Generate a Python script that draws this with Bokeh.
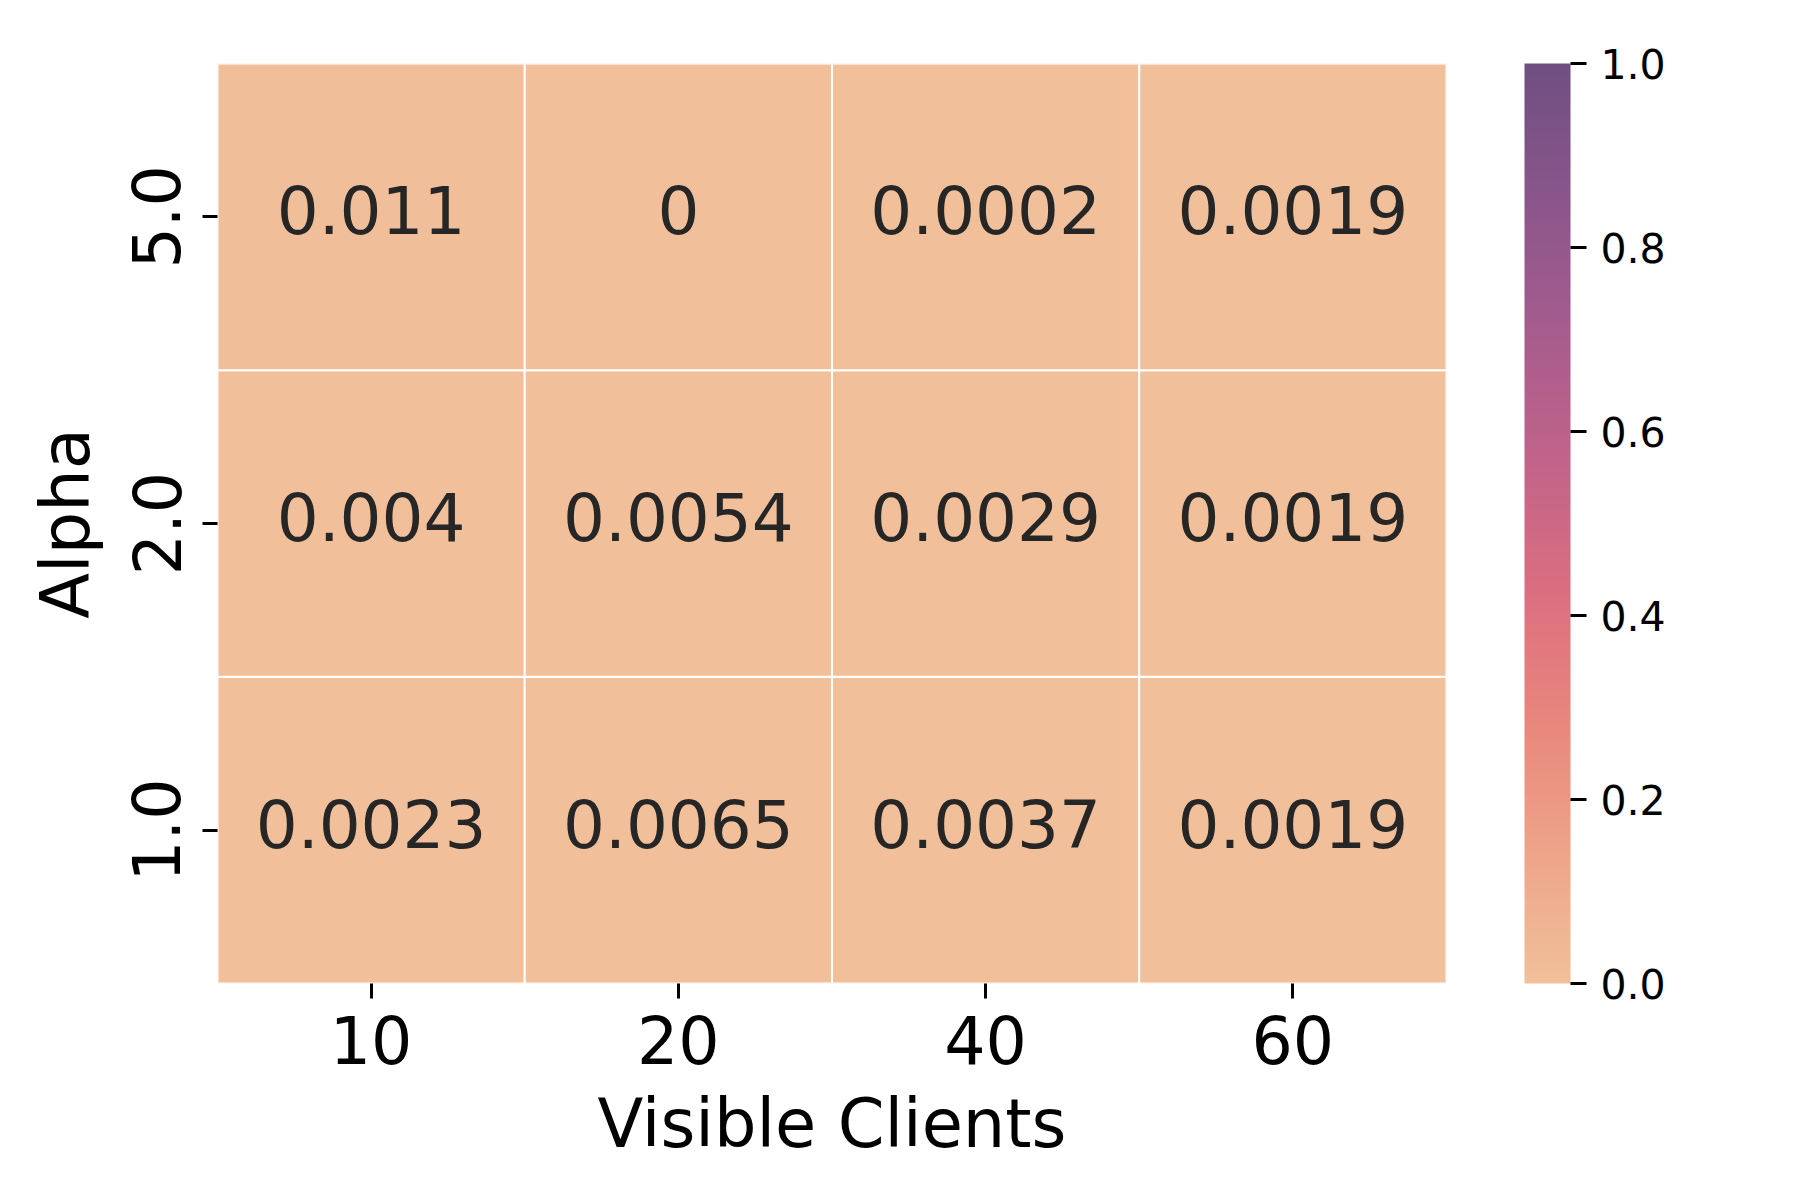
import numpy as np
from bokeh.plotting import figure
from bokeh.models import (ColumnDataSource, FactorRange, LinearColorMapper, ColorBar,
                          FixedTicker, PrintfTickFormatter)
from bokeh.transform import transform
from bokeh.core.properties import value
from bokeh.embed import file_html
from bokeh.resources import INLINE

# ---- data ----
clients = ["10", "20", "40", "60"]          # x categories
alphas = ["1.0", "2.0", "5.0"]              # y categories (bottom to top)
row_1_0 = [0.0023, 0.0065, 0.0037, 0.0019]
row_2_0 = [0.004, 0.0054, 0.0029, 0.0019]
row_5_0 = [0.011, 0.0, 0.0002, 0.0019]
cbar_ticks = [0.0, 0.2, 0.4, 0.6, 0.8, 1.0]

# ---- palette (flare-like, alpha 0.8 over white) ----
anchors = ["#EDB081", "#E98D6B", "#E3685C", "#D14A61", "#B13C6C", "#8F3371", "#6C2B6D", "#4B2362"]
def hex2rgb(h):
    h = h.lstrip("#")
    return np.array([int(h[i:i + 2], 16) for i in (0, 2, 4)], dtype=float)
anc = np.array([hex2rgb(a) for a in anchors])
pos = np.linspace(0, 1, len(anchors))
palette = []
for t in np.linspace(0, 1, 256):
    c = np.array([np.interp(t, pos, anc[:, k]) for k in range(3)])
    c = c * 0.8 + 255 * 0.2
    palette.append("#%02x%02x%02x" % tuple(int(round(v)) for v in c))

mapper = LinearColorMapper(palette=palette, low=0, high=1)

xs, ys, vals, labels = [], [], [], []
for a, row in zip(alphas, [row_1_0, row_2_0, row_5_0]):
    for c, v in zip(clients, row):
        xs.append(c)
        ys.append(a)
        vals.append(v)
        labels.append(format(v, ".2g"))
src = ColumnDataSource(dict(x=xs, y=ys, v=vals, label=labels))

FONT = "DejaVu Sans"

p = figure(width=1784, height=1184, x_range=FactorRange(*clients), y_range=FactorRange(*alphas),
           output_backend="svg", toolbar_location=None,
           min_border_left=217, min_border_top=63, min_border_bottom=201, min_border_right=338)
p.outline_line_color = None
p.grid.grid_line_color = None
p.background_fill_color = "white"

p.rect(x="x", y="y", width=1, height=1, source=src,
       fill_color=transform("v", mapper), line_color="white", line_width=2)
p.text(x="x", y="y", text="label", source=src, text_align="center", text_baseline="middle",
       y_offset=-7, text_font=value(FONT), text_font_size="66px", text_color="#262626")

for ax in (p.xaxis[0], p.yaxis[0]):
    ax.axis_line_color = None
    ax.major_tick_in = 0
    ax.major_tick_out = 15
    ax.major_tick_line_width = 3
    ax.major_tick_line_color = "black"
    ax.minor_tick_line_color = None
    ax.major_label_text_font = FONT
    ax.major_label_text_font_size = "65px"
    ax.major_label_text_color = "black"
    ax.axis_label_text_font = FONT
    ax.axis_label_text_font_size = "67px"
    ax.axis_label_text_font_style = "normal"
    ax.axis_label_text_color = "black"

p.xaxis.axis_label = "Visible Clients"
p.yaxis.axis_label = "Alpha"
p.yaxis.major_label_orientation = "vertical"
p.xaxis.major_label_standoff = 16
p.yaxis.major_label_standoff = 22
p.xaxis.axis_label_standoff = 18
p.yaxis.axis_label_standoff = 24

cb = ColorBar(color_mapper=mapper, width=46, height=920, location=(1307, 0),
              ticker=FixedTicker(ticks=cbar_ticks), formatter=PrintfTickFormatter(format="%.1f"),
              major_tick_in=0, major_tick_out=16, major_tick_line_color="black", major_tick_line_width=3,
              minor_tick_line_color=None, bar_line_color=None, border_line_color=None,
              background_fill_alpha=0, major_label_text_font=FONT, major_label_text_font_size="41px",
              major_label_text_color="black", label_standoff=14, margin=0, padding=0)
p.add_layout(cb, "center")

open("out.html", "w").write(file_html(p, INLINE))
